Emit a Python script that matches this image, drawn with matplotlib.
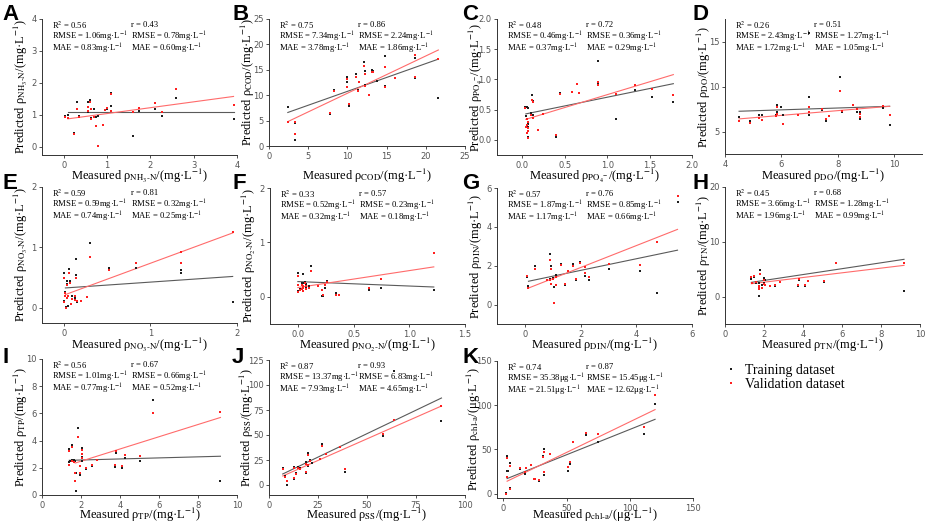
import numpy as np
import matplotlib
matplotlib.use("Agg")
import matplotlib.pyplot as plt
from matplotlib.ticker import FormatStrFormatter
from matplotlib.lines import Line2D

nan = np.nan

# ---- data: measured x, predicted (training / validation) ----
A_X = [0.04, 0.10, 0.23, 0.31, 0.36, 0.55, 0.55, 0.60, 0.62, 0.62, 0.69, 0.75, 0.80, 0.90, 0.95, 1.00, 1.10, 1.10, 1.60, 1.73, 2.11, 2.28, 2.59, 3.92]
A_TRAIN = [0.97, 1.00, 0.45, 1.42, 0.97, 1.42, 1.10, 1.46, 0.90, nan, 1.18, 0.95, 0.97, 0.68, 1.16, 1.20, 1.70, 1.28, 0.35, 1.14, 1.20, 0.96, 1.52, 0.87]
A_VALID = [0.95, 0.90, 0.40, 1.20, 0.95, 1.24, 1.12, 1.42, 0.86, 1.20, 0.95, 0.66, 0.02, 0.68, 1.15, 1.22, 1.66, 1.12, 1.10, 1.22, 1.38, 1.10, 1.80, 1.30]

B_X = [2.4, 3.3, 3.3, 7.8, 8.3, 9.9, 9.9, 10.2, 11.1, 11.3, 11.5, 12.1, 12.3, 12.3, 12.7, 13.1, 13.3, 13.8, 14.8, 14.8, 16.1, 18.6, 18.6, 21.6]
B_TRAIN = [7.6, 1.2, 4.6, 6.3, 11.1, 13.5, 12.5, 7.9, 14.2, 11.0, nan, 16.6, 12.0, 14.8, nan, 15.0, 14.7, 12.8, 17.7, 11.8, nan, 17.4, 13.3, 9.5]
B_VALID = [4.8, 2.3, 4.8, 6.5, 10.9, 13.2, 11.7, 8.2, 13.6, 10.8, 12.5, 15.7, 11.8, 14.2, 10.1, 14.5, 14.5, nan, 15.5, 11.6, 13.3, 17.9, 13.5, 17.1]

C_X = [0.03, 0.04, 0.05, 0.05, 0.05, 0.06, 0.06, 0.07, 0.07, 0.10, 0.11, 0.13, 0.13, 0.18, 0.24, 0.39, 0.44, 0.59, 0.64, 0.67, 0.89, 0.89, 1.10, 1.33, 1.53, 1.78]
C_TRAIN = [0.55, 0.40, 0.54, nan, nan, 0.05, 0.22, 0.52, 0.27, 0.44, 0.74, 0.41, 0.64, 0.17, nan, 0.04, 0.78, nan, nan, 0.78, 1.31, 0.92, 0.35, 0.82, 0.71, 0.62]
C_VALID = [0.53, 0.22, 0.25, 0.34, 0.12, 0.03, 0.20, 0.14, 0.29, 0.42, 0.66, 0.36, 0.63, 0.16, 0.43, 0.08, 0.76, 0.79, 0.93, 0.77, 0.95, 0.91, 0.76, 0.91, 0.84, 0.74]

D_X = [4.5, 4.9, 5.2, 5.3, 5.8, 5.85, 5.85, 6.0, 6.05, 6.6, 7.0, 7.0, 7.0, 7.45, 7.6, 7.7, 8.1, 8.15, 8.55, 8.7, 8.8, 8.8, 9.6, 9.85]
D_TRAIN = [6.6, 6.2, 6.8, 6.8, 6.8, 7.9, 7.2, 7.7, 6.8, 6.8, 8.8, 6.8, 16.0, 7.4, 6.2, nan, 11.1, 7.2, 7.9, 7.2, 7.2, 6.4, 7.6, 5.7]
D_VALID = [6.2, 6.0, 6.5, 6.3, 6.7, 7.7, 7.0, nan, 5.8, 6.8, 7.7, 7.2, nan, 7.5, 6.4, 6.7, 9.5, 7.3, 8.0, 7.5, 7.0, 6.6, 7.8, 6.8]

E_X = [0.0, 0.0, 0.02, 0.02, 0.03, 0.04, 0.04, 0.05, 0.05, 0.06, 0.07, 0.09, 0.10, 0.13, 0.13, 0.14, 0.14, 0.15, 0.20, 0.27, 0.30, 0.52, 0.84, 1.35, 1.35, 1.95]
E_TRAIN = [0.58, 0.12, 0.27, nan, 0.02, 0.40, 0.45, nan, 0.03, 0.65, 0.44, nan, 0.19, 0.17, 0.20, 0.54, 0.81, 0.10, nan, nan, 1.07, 0.66, 0.66, 0.57, 0.62, 0.10]
E_VALID = [0.50, 0.10, 0.25, 0.20, 0.00, 0.17, 0.38, 0.20, nan, 0.58, 0.41, 0.07, 0.15, 0.13, 0.19, 0.50, nan, 0.12, 0.11, 0.18, 0.84, 0.63, 0.74, 0.74, 0.92, 1.26]

F_X = [0.0, 0.0, 0.0, 0.02, 0.04, 0.04, 0.05, 0.05, 0.05, 0.06, 0.07, 0.07, 0.10, 0.12, 0.18, 0.22, 0.23, 0.24, 0.26, 0.34, 0.37, 0.64, 0.75, 1.22]
F_TRAIN = [0.43, 0.22, 0.10, 0.15, nan, 0.25, 0.26, nan, 0.42, 0.27, 0.23, 0.18, 0.20, 0.56, 0.20, 0.01, 0.02, 0.17, 0.29, 0.07, 0.03, 0.12, 0.16, 0.13]
F_VALID = [0.39, 0.21, 0.08, 0.12, 0.14, 0.22, 0.20, 0.10, 0.17, 0.25, 0.20, 0.14, 0.16, 0.47, 0.20, 0.12, 0.03, 0.21, 0.28, 0.04, 0.04, 0.17, 0.32, 0.81]

G_X = [0.07, 0.13, 0.36, 0.78, 0.92, 0.92, 0.94, 0.94, 1.00, 1.05, 1.10, 1.10, 1.30, 1.45, 1.55, 1.72, 1.82, 1.98, 2.15, 2.15, 2.32, 3.03, 4.13, 4.75, 5.48]
G_TRAIN = [1.41, 0.96, 1.98, nan, 2.62, 1.32, 1.96, 1.08, 1.36, 0.92, 1.50, 1.45, 2.08, 1.02, nan, 2.10, 1.25, 2.20, 1.45, nan, 1.28, 1.81, 1.72, 0.57, 5.30]
G_VALID = [1.45, 0.85, 1.83, 1.27, 2.28, 1.27, 1.85, 1.04, 1.30, 0.10, 1.00, 1.40, 2.04, 1.08, 1.75, 2.00, 1.30, 2.15, 1.95, 1.60, 1.40, 2.10, 2.05, 3.20, 5.60]

H_X = [1.35, 1.40, 1.50, 1.60, 1.72, 1.72, 1.75, 1.82, 1.90, 2.00, 2.00, 2.05, 2.30, 2.55, 2.80, 3.72, 3.78, 4.10, 4.25, 5.08, 5.70, 9.18]
H_TRAIN = [3.3, 2.4, 3.6, 2.4, 0.2, 1.7, 2.4, 4.8, 2.1, 3.4, 2.5, 3.0, 1.9, 2.0, nan, 2.0, 3.1, 1.9, 2.8, 2.6, nan, 1.1]
H_VALID = [3.5, 2.5, 3.7, 2.6, 1.4, 1.6, 2.0, 4.2, 1.6, 3.0, 2.3, 2.2, 2.0, 2.2, 2.7, 2.2, 3.3, 2.2, 2.9, 2.9, 6.1, 6.2]

I_X = [1.38, 1.38, 1.45, 1.55, 1.55, 1.65, 1.70, 1.70, 1.72, 1.72, 1.85, 1.95, 1.95, 2.05, 2.05, 2.05, 2.25, 2.55, 2.80, 3.72, 3.80, 4.10, 4.25, 5.05, 5.70, 9.15]
I_TRAIN = [3.4, 2.4, 2.5, 3.7, 2.6, 2.55, 2.5, nan, 0.3, 1.6, 4.9, 1.5, nan, 3.45, 2.8, 2.5, 1.9, 2.1, 2.55, 2.05, 3.1, 1.95, 2.7, 2.5, 7.0, 1.05]
I_VALID = [3.2, 2.2, nan, 3.5, 2.5, 2.4, 1.6, 1.05, nan, nan, 4.3, 2.1, 1.6, 3.3, 3.0, 2.7, 1.95, 2.2, 2.6, 2.2, 3.25, 2.15, 2.95, 2.85, 6.05, 6.1]

J_X = [7, 8, 9, 13, 13, 14, 15, 16, 19, 19, 20, 20, 21, 22, 26, 27, 29, 36, 39, 58, 64, 88]
J_TRAIN = [17, 9, 0, 6, 18, 12, 18, 17, 12, 23, 32, 19, 25, 22, nan, 41, 31, 38, 13, 49, 114, 64]
J_VALID = [16, 8, 4, 7, 17, 11, 17, 16, 13, 21, 30, 20, 24, nan, 26, 39, 31, 38, 16, 51, 65, 79]

K_X = [2, 3, 3, 4, 5, 5, 13, 17, 18, 22, 24, 25, 28, 31, 32, 32, 37, 51, 53, 55, 65, 75, 111, 120]
K_TRAIN = [1, 25, 42, 25, 35, 6, 28, 22, nan, nan, 16, 16, 14, 42, 50, 21, 45, 26, 33, nan, 66, 58, 67, 101]
K_VALID = [0, 19, 40, nan, 31, 5, 29, 24, 29, 32, 16, 16, 15, 41, 47, 24, 45, 30, 36, 58, 68, 67, 75, 112]

# fitted lines: [x0, y0, x1, y1]
FIT_TRAIN = {
    "A": [0.10, 1.08, 3.92, 1.08], "B": [2.4, 6.6, 21.6, 17.1], "C": [0.04, 0.43, 1.78, 0.93],
    "D": [4.5, 7.25, 9.85, 7.8], "E": [0.02, 0.33, 1.95, 0.52], "F": [0.0, 0.28, 1.22, 0.18],
    "G": [0.13, 1.2, 5.48, 2.8], "H": [1.35, 2.6, 9.18, 6.8], "I": [1.4, 2.55, 9.15, 2.85],
    "J": [7, 11, 88, 87], "K": [3, 17, 120, 84],
}
FIT_VALID = {
    "A": [0.10, 0.88, 3.92, 1.58], "B": [2.4, 4.8, 21.6, 18.9], "C": [0.04, 0.34, 1.78, 1.08],
    "D": [4.5, 6.4, 9.85, 7.8], "E": [0.02, 0.22, 1.95, 1.24], "F": [0.0, 0.17, 1.22, 0.55],
    "G": [0.13, 0.85, 5.48, 3.87], "H": [1.35, 2.35, 9.18, 5.7], "I": [1.7, 2.35, 9.15, 5.7],
    "J": [7, 9, 88, 79], "K": [3, 14, 120, 95],
}

R2 = [0.56, 0.75, 0.48, 0.26, 0.59, 0.33, 0.57, 0.45, 0.56, 0.87, 0.74]
R = [0.43, 0.86, 0.72, 0.51, 0.81, 0.57, 0.76, 0.68, 0.67, 0.93, 0.87]
RMSE_TRAIN = [1.06, 7.34, 0.46, 2.43, 0.59, 0.52, 1.87, 3.66, 1.01, 13.37, 35.38]
RMSE_VALID = [0.78, 2.24, 0.36, 1.27, 0.32, 0.23, 0.85, 1.28, 0.66, 6.83, 15.45]
MAE_TRAIN = [0.83, 3.78, 0.37, 1.72, 0.74, 0.32, 1.17, 1.96, 0.77, 7.93, 21.51]
MAE_VALID = [0.60, 1.86, 0.29, 1.05, 0.25, 0.18, 0.66, 0.99, 0.52, 4.65, 12.62]

SUBS = [r"\mathrm{NH_3}\text{-}\mathrm{N}", r"\mathrm{COD}", r"\mathrm{PO_4}^{-}", r"\mathrm{DO}",
        r"\mathrm{NO_3}\text{-}\mathrm{N}", r"\mathrm{NO_2}\text{-}\mathrm{N}", r"\mathrm{DIN}",
        r"\mathrm{TN}", r"\mathrm{TP}", r"\mathrm{SS}", r"\mathrm{chl}\text{-}\mathrm{a}"]
UNITS = ["mg"] * 10 + ["μg"]

# ---- layout (pixel boxes: left, top, right, bottom) and axis settings ----
W, H = 927, 523
ROW_XLABEL_Y = [176, 345, 515]
PANELS = [
    ("A", A_X, A_TRAIN, A_VALID, (42, 19, 237, 155), (-0.5, 4), (-0.25, 4), np.arange(0, 5, 1), np.arange(0, 5, 1), None),
    ("B", B_X, B_TRAIN, B_VALID, (269, 19, 465, 146), (0, 25), (0, 25), np.arange(0, 26, 5), np.arange(0, 26, 5), None),
    ("C", C_X, C_TRAIN, C_VALID, (497, 19, 692, 155), (-0.3, 2.0), (-0.25, 2.0), np.arange(0, 2.01, 0.5), np.arange(0, 2.01, 0.5), "xy"),
    ("D", D_X, D_TRAIN, D_VALID, (725, 19, 922, 154), (4, 11), (2.5, 17.5), [4, 6, 8, 10], [5, 10, 15], None),
    ("E", E_X, E_TRAIN, E_VALID, (42, 187, 237, 323), (-0.25, 2), (-0.25, 2), [0, 1, 2], [0, 1, 2], None),
    ("F", F_X, F_TRAIN, F_VALID, (270, 188, 465, 324), (-0.25, 1.5), (-0.5, 2), [0.0, 0.5, 1.0, 1.5], [0, 1, 2], "x"),
    ("G", G_X, G_TRAIN, G_VALID, (497, 188, 692, 324), (-1, 6), (-1, 6), [0, 2, 4, 6], [0, 2, 4, 6], None),
    ("H", H_X, H_TRAIN, H_VALID, (725, 187, 920, 324), (0, 10), (-5, 20), np.arange(0, 11, 2), [0, 10, 20], None),
    ("I", I_X, I_TRAIN, I_VALID, (42, 359, 237, 495), (0, 10), (0, 10), np.arange(0, 11, 2), np.arange(0, 11, 2), None),
    ("J", J_X, J_TRAIN, J_VALID, (269, 360, 465, 495), (0, 100), (-10, 125), [0, 25, 50, 75, 100], np.arange(0, 126, 25), None),
    ("K", K_X, K_TRAIN, K_VALID, (497, 361, 693, 498), (-5, 150), (-5, 150), [0, 50, 100, 150], [0, 50, 100, 150], None),
]
YLABEL_GAP = {"J": 22, "K": 23}
LETTER_POS = {"A": (2, 4), "B": (232, 4), "C": (462, 4), "D": (692, 4),
              "E": (2, 173), "F": (232, 173), "G": (462, 173), "H": (692, 173),
              "I": (2, 347), "J": (232, 347), "K": (462, 347)}

TRAIN_C = "#1e1e1e"
VALID_C = "#ff1f1f"
TRAIN_LINE = "#5a5a5a"
VALID_LINE = "#ff6b6b"

plt.rcParams["font.family"] = ["Liberation Serif", "DejaVu Serif"]
plt.rcParams["mathtext.fontset"] = "stix"

fig = plt.figure(figsize=(W / 100, H / 100), dpi=100)

for i, (key, xs, ytr, yva, box, xlim, ylim, xt, yt, fmt) in enumerate(PANELS):
    l, t, r, b = box
    ax = fig.add_axes([l / W, 1 - b / H, (r - l) / W, (b - t) / H])
    for s in ("top", "right"):
        ax.spines[s].set_visible(False)
    for s in ("left", "bottom"):
        ax.spines[s].set_color("#333333")
        ax.spines[s].set_linewidth(0.7)

    ft = FIT_TRAIN[key]
    fv = FIT_VALID[key]
    ax.plot([ft[0], ft[2]], [ft[1], ft[3]], color=TRAIN_LINE, lw=0.8, zorder=2)
    ax.plot([fv[0], fv[2]], [fv[1], fv[3]], color=VALID_LINE, lw=0.8, zorder=2)
    ax.plot(xs, ytr, "s", color=TRAIN_C, ms=2.1, mew=0, zorder=3)
    ax.plot(xs, yva, "s", color=VALID_C, ms=2.1, mew=0, zorder=4)

    ax.set_xlim(*xlim)
    ax.set_ylim(*ylim)
    ax.set_xticks(xt)
    ax.set_yticks(yt)
    if fmt and "x" in fmt:
        ax.xaxis.set_major_formatter(FormatStrFormatter("%.1f"))
    if fmt and "y" in fmt:
        ax.yaxis.set_major_formatter(FormatStrFormatter("%.1f"))
    ax.tick_params(direction="out", length=2.5, width=0.6, color="#333333",
                   labelsize=6, labelcolor="#555555", pad=1.5)
    for lab in ax.get_xticklabels() + ax.get_yticklabels():
        lab.set_fontfamily("DejaVu Sans")

    sub = SUBS[i]
    unit = UNITS[i]
    u = f"{unit}·L$^{{-1}}$"
    row = i // 4
    ax.set_xlabel(f"Measured ρ$_{{{sub}}}$/({u})", fontsize=9, va="center")
    ax.xaxis.set_label_coords(0.5, -(ROW_XLABEL_Y[row] - b) / (b - t))
    ax.set_ylabel(f"Predicted ρ$_{{{sub}}}$/({u})", fontsize=9, va="center")
    ax.yaxis.set_label_coords(-YLABEL_GAP.get(key, 21) / (r - l), 0.5)

    rows = [(f"R$^2$ = {R2[i]:.2f}", f"r = {R[i]:.2f}"),
            (f"RMSE = {RMSE_TRAIN[i]:.2f}{u}", f"RMSE = {RMSE_VALID[i]:.2f}{u}"),
            (f"MAE = {MAE_TRAIN[i]:.2f}{u}", f"MAE = {MAE_VALID[i]:.2f}{u}")]
    for k, (left_txt, right_txt) in enumerate(rows):
        dy = -(4.5 + 8.6 * k)
        ax.annotate(left_txt, xy=(0, 1), xycoords="axes fraction", xytext=(7, dy),
                    textcoords="offset points", va="center", ha="left", fontsize=6.2)
        ax.annotate(right_txt, xy=(0, 1), xycoords="axes fraction", xytext=(64, dy),
                    textcoords="offset points", va="center", ha="left", fontsize=6.2)

    lx, ly = LETTER_POS[key]
    fig.text(lx / W, 1 - ly / H, key, fontsize=16, fontweight="bold",
             family="Liberation Sans", va="top", ha="left")

handles = [Line2D([], [], ls="none", marker="s", ms=2.1, mew=0, color=TRAIN_C),
           Line2D([], [], ls="none", marker="s", ms=2.1, mew=0, color=VALID_C)]
fig.legend(handles, ["Training dataset", "Validation dataset"], loc="upper left",
           bbox_to_anchor=(716 / W, 1 - 357 / H), frameon=False, fontsize=10,
           handlelength=1.2, handletextpad=0.4, labelspacing=0.05, borderpad=0)

fig.savefig("out.png", dpi=100)
